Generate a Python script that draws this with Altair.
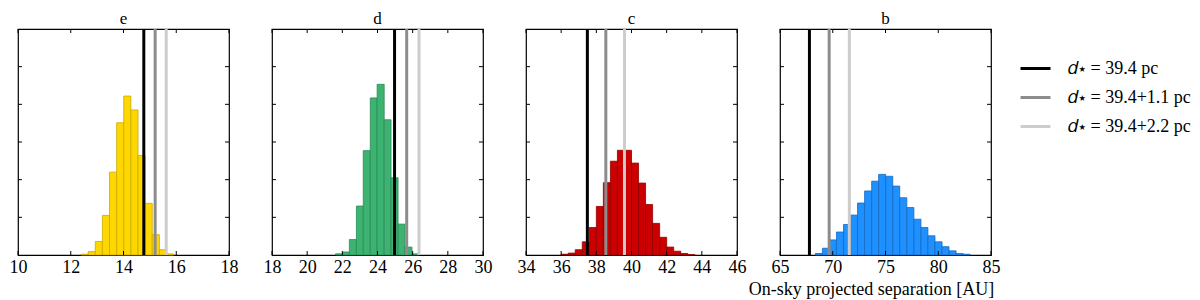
import altair as alt
import pandas as pd

SERIF = "Liberation Serif"
W, H = 211, 226

panel_names = ["e", "d", "c", "b"]

# histogram bin edges (left edges + final right edge) and heights
e_edges = [12.39, 12.66, 12.93, 13.20, 13.47, 13.74, 14.01, 14.28, 14.55, 14.82, 15.09, 15.36, 15.63, 15.90]
e_heights = [0.02, 0.09, 0.36, 1.05, 2.20, 3.51, 4.22, 3.85, 2.64, 1.37, 0.54, 0.14, 0.03]

d_edges = [21.61, 22.01, 22.40, 22.80, 23.19, 23.59, 23.98, 24.38, 24.77, 25.17, 25.56, 25.96, 26.35]
d_heights = [0.03, 0.08, 0.41, 1.30, 2.77, 4.17, 4.53, 3.59, 2.05, 0.82, 0.21, 0.03]

c_edges = [36.0, 36.4, 36.8, 37.2, 37.6, 38.0, 38.4, 38.8, 39.2, 39.6, 40.0,
           40.4, 40.8, 41.2, 41.6, 42.0, 42.4, 42.8, 43.2, 43.6]
c_heights = [0.02, 0.05, 0.14, 0.35, 0.73, 1.29, 1.92, 2.49, 2.78, 2.78, 2.44,
             1.91, 1.34, 0.84, 0.47, 0.21, 0.10, 0.04, 0.01]

b_edges = [68.35, 69.02, 69.68, 70.35, 71.02, 71.69, 72.35, 73.02, 73.69, 74.35, 75.02, 75.69,
           76.35, 77.02, 77.69, 78.36, 79.02, 79.69, 80.36, 81.02, 81.69, 82.36, 83.02]
b_heights = [0.04, 0.18, 0.40, 0.61, 0.81, 1.06, 1.38, 1.70, 1.96, 2.14, 2.09, 1.83,
             1.52, 1.26, 0.95, 0.73, 0.51, 0.35, 0.22, 0.11, 0.04, 0.02]

# separations at the three assumed distances
e_lines = [14.77, 15.20, 15.62]
d_lines = [24.97, 25.66, 26.36]
c_lines = [37.49, 38.54, 39.60]
b_lines = [67.79, 69.66, 71.57]

x_domains = [[10, 18], [18, 30], [34, 46], [65, 85]]
x_ticks = [[10, 12, 14, 16, 18], [18, 20, 22, 24, 26, 28, 30],
           [34, 36, 38, 40, 42, 44, 46], [65, 70, 75, 80, 85]]
y_ticks = [1, 2, 3, 4, 5]

fills = ["#FFD700", "#3CB371", "#CC0000", "#1E90FF"]
strokes = ["#C9A800", "#2A8A55", "#8E0000", "#1669C0"]

dist_labels = ["\U0001D451\u22C6 = 39.4 pc", "\U0001D451\u22C6 = 39.4+1.1 pc", "\U0001D451\u22C6 = 39.4+2.2 pc"]
line_colors = ["#000000", "#8C8C8C", "#CCCCCC"]

all_edges = [e_edges, d_edges, c_edges, b_edges]
all_heights = [e_heights, d_heights, c_heights, b_heights]
all_lines = [e_lines, d_lines, c_lines, b_lines]


def panel(i):
    edges = all_edges[i]
    bars_df = pd.DataFrame({"x0": edges[:-1], "x1": edges[1:], "h": all_heights[i]})
    xs = alt.Scale(domain=x_domains[i], nice=False, zero=False)
    ys = alt.Scale(domain=[0, 6], nice=False)
    is_last = i == 3
    axis_kw = dict(values=x_ticks[i], ticks=False, domain=False, grid=False,
                   labelFont=SERIF, labelFontSize=18, labelColor="black",
                   labelPadding=3, labelFlush=False)
    if is_last:
        axis_kw.update(title="On-sky projected separation [AU]", titleFont=SERIF,
                       titleFontSize=18, titleFontWeight="normal", titleColor="black",
                       titlePadding=4, titleX=91)
    else:
        axis_kw.update(title=None)
    xaxis = alt.Axis(**axis_kw)
    bars = alt.Chart(bars_df).mark_bar(fill=fills[i], stroke=strokes[i], strokeWidth=0.8).encode(
        x=alt.X("x0:Q", scale=xs, axis=xaxis),
        x2="x1:Q",
        y=alt.Y("h:Q", scale=ys, axis=None),
        y2=alt.datum(0),
    )
    lines_df = pd.DataFrame({"v": all_lines[i], "dist": dist_labels})
    rules = alt.Chart(lines_df).mark_rule(strokeWidth=3).encode(
        x=alt.X("v:Q", scale=xs, axis=xaxis),
        color=alt.Color("dist:N", scale=alt.Scale(domain=dist_labels, range=line_colors),
                        legend=alt.Legend(title=None, orient="none", legendX=1001, legendY=23,
                                          symbolType="stroke", symbolSize=900,
                                          symbolStrokeWidth=3, labelFont=SERIF,
                                          labelFontSize=18, labelColor="black",
                                          labelOffset=16, rowPadding=3, padding=0)),
    )
    xt_df = pd.DataFrame({"t": x_ticks[i]})
    yt_df = pd.DataFrame({"t": y_ticks})
    tb = alt.Chart(xt_df).mark_rule(color="black", strokeWidth=1).encode(
        x=alt.X("t:Q", scale=xs, axis=xaxis), y=alt.value(H), y2=alt.value(H - 4))
    tt = alt.Chart(xt_df).mark_rule(color="black", strokeWidth=1).encode(
        x=alt.X("t:Q", scale=xs, axis=xaxis), y=alt.value(0), y2=alt.value(4))
    tl = alt.Chart(yt_df).mark_rule(color="black", strokeWidth=1).encode(
        y=alt.Y("t:Q", scale=ys, axis=None), x=alt.value(0), x2=alt.value(4))
    tr = alt.Chart(yt_df).mark_rule(color="black", strokeWidth=1).encode(
        y=alt.Y("t:Q", scale=ys, axis=None), x=alt.value(W - 4), x2=alt.value(W))
    return alt.layer(bars, rules, tb, tt, tl, tr).properties(
        width=W, height=H,
        title=alt.TitleParams(panel_names[i], font=SERIF, fontSize=17, fontWeight="normal",
                              color="black", anchor="middle", offset=0),
    )


chart = alt.hconcat(*[panel(i) for i in range(4)], spacing=43, bounds="flush").properties(
    padding={"left": 0, "top": 0, "right": 0, "bottom": 0}
).configure(
    background="white", font=SERIF
).configure_view(
    stroke="black", strokeWidth=1.2
).configure_axis(
    labelFont=SERIF, titleFont=SERIF
).configure_legend(
    labelFont=SERIF
)

chart.save("out.html", embed_options={"renderer": "svg", "actions": False})
